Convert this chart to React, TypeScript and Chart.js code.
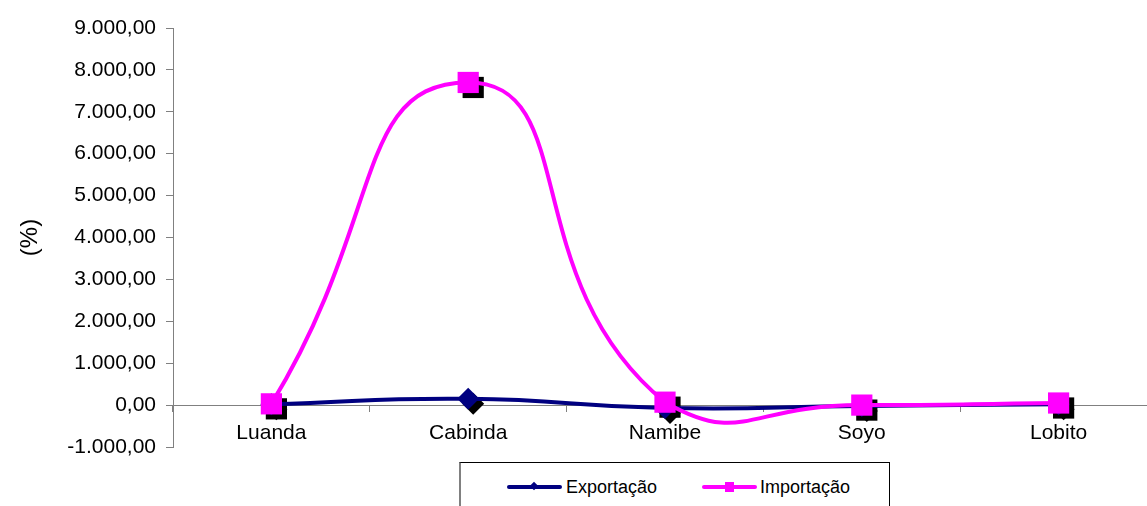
import React, { useEffect, useRef } from 'react';
import { Chart, registerables } from 'chart.js';

Chart.register(...registerables);

const categories = ['Luanda', 'Cabinda', 'Namibe', 'Soyo', 'Lobito'];
const exportacao = [20, 150, -70, -20, 20];
const importacao = [30, 7700, 70, 0, 50];
const yMin = -1000;
const yMax = 9000;
const yStep = 1000;
const seriesNames = ['Exportação', 'Importação'];
const yTitle = '(%)';

const NAVY = '#000080';
const PINK = '#FF00FF';
const FONT = "'Liberation Sans', Arial, sans-serif";

function fmt(v: number): string {
  const neg = v < 0;
  const a = Math.abs(v);
  const ip = Math.floor(a);
  const intStr = ip.toString().replace(/\B(?=(\d{3})+(?!\d))/g, '.');
  const dec = Math.round((a - ip) * 100).toString().padStart(2, '0');
  return (neg ? '-' : '') + intStr + ',' + dec;
}

const shadowPlugin = {
  id: 'markerShadow',
  beforeDatasetsDraw(chart: any) {
    const ctx = chart.ctx;
    const off = 5;
    ctx.save();
    ctx.fillStyle = '#000';
    chart.data.datasets.forEach((ds: any, i: number) => {
      const meta = chart.getDatasetMeta(i);
      const r = ds.pointRadius;
      meta.data.forEach((pt: any) => {
        const { x, y } = pt.getProps(['x', 'y'], true);
        ctx.beginPath();
        if (ds.pointStyle === 'rect') {
          const s = r * Math.SQRT1_2;
          ctx.rect(x - s + off, y - s + off, 2 * s, 2 * s);
        } else {
          ctx.moveTo(x + off, y - r + off);
          ctx.lineTo(x + r + off, y + off);
          ctx.lineTo(x + off, y + r + off);
          ctx.lineTo(x - r + off, y + off);
          ctx.closePath();
        }
        ctx.fill();
      });
    });
    ctx.restore();
  },
};

const CANVAS_W = 1172;

export default function App() {
  const ref = useRef<HTMLCanvasElement | null>(null);

  useEffect(() => {
    if (!ref.current) return;
    const font = { family: FONT, size: 21 };
    const chart = new Chart(ref.current, {
      type: 'line',
      data: {
        labels: categories,
        datasets: [
          {
            label: seriesNames[1],
            data: importacao,
            borderColor: PINK,
            backgroundColor: PINK,
            borderWidth: 4,
            tension: 0.58,
            pointStyle: 'rect',
            pointRadius: 15,
            pointBorderWidth: 0,
            pointBackgroundColor: PINK,
            fill: false,
            order: 0,
          },
          {
            label: seriesNames[0],
            data: exportacao,
            borderColor: NAVY,
            backgroundColor: NAVY,
            borderWidth: 4,
            tension: 0.5,
            pointStyle: 'rectRot',
            pointRadius: 11,
            pointBorderWidth: 0,
            pointBackgroundColor: NAVY,
            fill: false,
            order: 1,
          },
        ],
      },
      options: {
        responsive: false,
        animation: false,
        devicePixelRatio: 1,
        layout: { padding: { left: 0, top: 28, right: 0, bottom: 59 } },
        plugins: {
          legend: { display: false },
          tooltip: { enabled: false },
        },
        scales: {
          x: {
            type: 'category',
            position: { y: 0 } as any,
            offset: true,
            grid: {
              display: true,
              drawOnChartArea: false,
              drawTicks: true,
              tickLength: 6,
              color: '#808080',
              offset: true,
            },
            border: { display: true, color: '#808080', width: 1 },
            ticks: {
              color: '#000',
              font,
              padding: 10,
              maxRotation: 0,
              autoSkip: false,
            },
            afterFit: (s: any) => {
              s.height = 0;
            },
          },
          y: {
            min: yMin,
            max: yMax,
            ticks: {
              stepSize: yStep,
              color: '#000',
              font,
              padding: 10,
              callback: (v: any) => fmt(Number(v)),
            },
            grid: {
              drawOnChartArea: false,
              drawTicks: true,
              tickLength: 7,
              color: '#808080',
            },
            border: { display: true, color: '#808080', width: 1 },
            title: {
              display: true,
              text: yTitle,
              color: '#000',
              font: { family: FONT, size: 24 },
              padding: { top: 16, bottom: 0 },
            },
            afterFit: (s: any) => {
              s.width = 173;
            },
          },
        },
      },
      plugins: [shadowPlugin],
    } as any);
    return () => chart.destroy();
  }, []);

  const legendText: React.CSSProperties = {
    position: 'absolute',
    top: 476,
    fontFamily: FONT,
    fontSize: 18,
    lineHeight: '22px',
    color: '#000',
    whiteSpace: 'nowrap',
  };

  return (
    <div
      style={{
        position: 'fixed',
        left: 0,
        top: 0,
        width: 1147,
        height: 506,
        overflow: 'hidden',
        background: '#fff',
      }}
    >
      <div style={{ position: 'absolute', left: 0, top: 0, width: CANVAS_W, height: 506 }}>
        <canvas
          ref={ref}
          width={CANVAS_W}
          height={506}
          style={{ display: 'block', width: CANVAS_W, height: 506 }}
        />
      </div>
      <div
        style={{
          position: 'absolute',
          left: 459,
          top: 462,
          width: 428,
          height: 80,
          borderTop: '1px solid #000',
          borderLeft: '2px solid #808080',
          borderRight: '1px solid #000',
          background: '#fff',
        }}
      />
      <div
        style={{
          position: 'absolute',
          left: 507,
          top: 485,
          width: 55,
          height: 4,
          borderRadius: 2,
          background: NAVY,
        }}
      />
      <div
        style={{
          position: 'absolute',
          left: 531,
          top: 483,
          width: 6,
          height: 6,
          transform: 'rotate(45deg)',
          background: NAVY,
        }}
      />
      <div style={{ ...legendText, left: 566 }}>{seriesNames[0]}</div>
      <div
        style={{
          position: 'absolute',
          left: 702,
          top: 485,
          width: 55,
          height: 4,
          borderRadius: 2,
          background: PINK,
        }}
      />
      <div
        style={{
          position: 'absolute',
          left: 725,
          top: 482,
          width: 9,
          height: 10,
          background: PINK,
        }}
      />
      <div style={{ ...legendText, left: 760 }}>{seriesNames[1]}</div>
    </div>
  );
}
